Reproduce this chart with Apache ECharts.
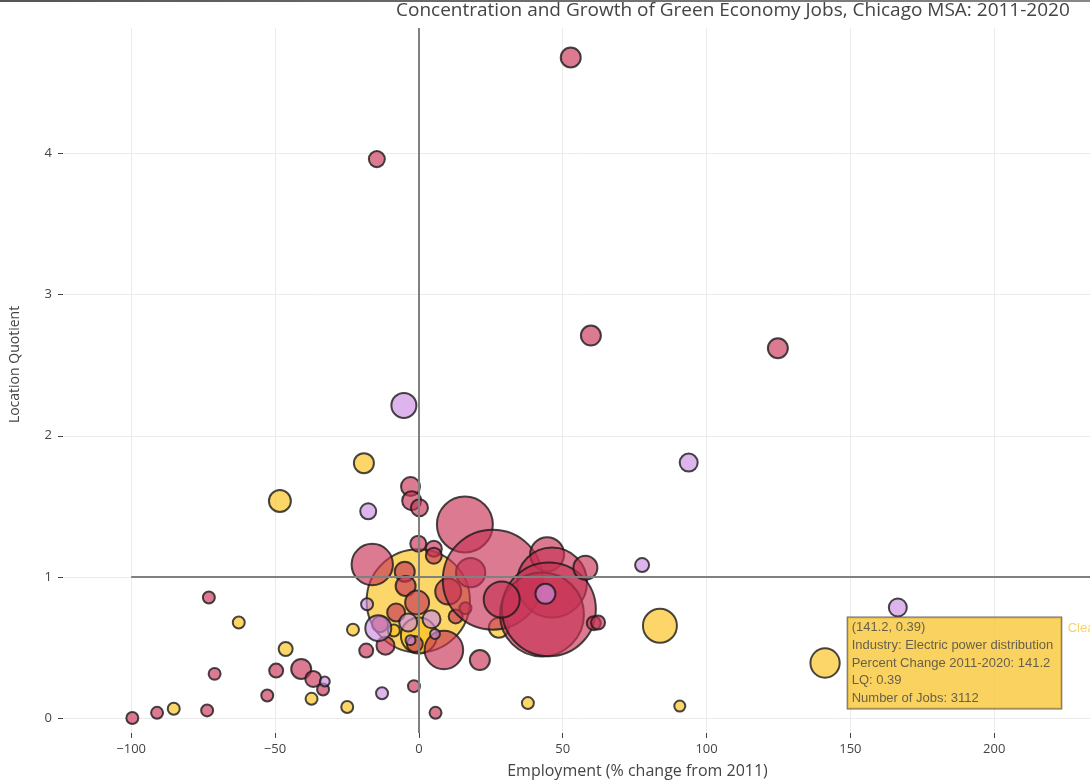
<!DOCTYPE html>
<html>
<head>
<meta charset="utf-8">
<script src="https://cdn.jsdelivr.net/npm/echarts@6/dist/echarts.min.js"></script>
<style>
html,body{margin:0;padding:0;background:#fff;}
#chart{width:1090px;height:784px;}
</style>
</head>
<body>
<div id="chart"></div>
<script>
// ---- data ----
const titleText = 'Concentration and Growth of Green Economy Jobs, Chicago MSA: 2011-2020';
const xTicks = [-100, -50, 0, 50, 100, 150, 200];
const yTicks = [0, 1, 2, 3, 4];

// Clean energy (yellow)
const cleanX    = [-19.1, -48.3, -0.2, 0.0, -22.9, -8.7, 27.8, 83.8, 141.2, 90.7, 37.9, -24.9, -37.3, -46.3, -62.6, -85.2];
const cleanY    = [1.806, 1.538, 0.83, 0.585, 0.626, 0.62, 0.64, 0.654, 0.39, 0.085, 0.106, 0.078, 0.136, 0.489, 0.677, 0.066];
const cleanJobs = [1450, 1750, 38700, 4700, 520, 520, 1450, 4190, 3112, 440, 520, 520, 520, 710, 520, 520];

// Green products & services (pink)
const greenX    = [52.8, -14.6, 59.8, 124.8, -2.9, -2.5, 0.2, 16, -0.2, 5.2, 5.2, -16.2, 18, -4.9, -4.6, 10.2, -0.6, -7.9, 16.2, 12.8,
                   -1.4, -11.6, -18.3, 8.7, 21.2, -1.7, 5.8, 25.7, 44.6, 46.3, 42.8, 45.2, 57.9, 28.8, 60.8, 62.3, -73, -71, -49.6, -40.9,
                   -36.7, -33.3, -52.7, -99.6, -91, -73.6, -13.5];
const greenY    = [4.68, 3.96, 2.71, 2.62, 1.64, 1.54, 1.49, 1.371, 1.235, 1.20, 1.15, 1.088, 1.03, 1.037, 0.936, 0.896, 0.818, 0.748, 0.778, 0.72,
                   0.524, 0.513, 0.478, 0.482, 0.411, 0.226, 0.037, 0.98, 1.16, 0.96, 0.734, 0.77, 1.065, 0.84, 0.672, 0.677, 0.854, 0.313, 0.336, 0.348,
                   0.277, 0.202, 0.16, 0.0, 0.037, 0.054, 0.665];
const greenJobs = [1450, 930, 1450, 1450, 1310, 1310, 1050, 11370, 930, 930, 930, 6210, 3130, 1450, 1450, 2450, 2090, 1175, 520, 710,
                   930, 1175, 710, 5400, 1450, 520, 520, 36250, 4190, 17760, 25580, 32030, 2090, 4700, 710, 710, 520, 520, 710, 1450,
                   930, 520, 520, 520, 520, 520, 930];

// Environmental services (lavender)
const envX    = [-5.2, 93.8, -17.6, 77.6, 166.5, 44, -18, -14.1, -3.7, 4.4, 5.6, -2.9, -12.8, -32.7];
const envY    = [2.215, 1.81, 1.465, 1.084, 0.783, 0.88, 0.806, 0.637, 0.677, 0.70, 0.595, 0.552, 0.176, 0.259];
const envJobs = [2270, 1175, 930, 710, 1175, 1450, 520, 2450, 1175, 1175, 360, 360, 520, 360];

const seriesNames = ['Clean Energy', 'Green Products & Services', 'Environmental Services'];
const hovered = { seriesIndex: 0, index: 8, industry: 'Electric power distribution' };
const refX = 0, refY = 1, refYLineStartX = -100;

// ---- layout ----
const X_MIN = -123.7, X_MAX = 233.3, Y_MIN = -0.106, Y_MAX = 4.889;
const SIZE_K = 0.525;
const FONT = '"Open Sans", "Liberation Sans", Arial, sans-serif';
const ARIAL = '"Liberation Sans", Arial, sans-serif';
const minus = v => String(v).replace('-', '\u2212');

function pts(xs, ys, js) { return xs.map((x, i) => [x, ys[i], js[i]]); }
const allX = [cleanX, greenX, envX], allY = [cleanY, greenY, envY], allJ = [cleanJobs, greenJobs, envJobs];
const fills = ['rgba(250,192,23,0.65)', 'rgba(200,50,85,0.65)', 'rgba(204,140,226,0.65)'];

function bubbleSeries(k) {
  return {
    name: seriesNames[k], type: 'scatter', z: 2,
    data: pts(allX[k], allY[k], allJ[k]),
    symbolSize: v => Math.sqrt(v[2]) * SIZE_K,
    itemStyle: { color: fills[k], borderColor: 'rgba(25,25,25,0.8)', borderWidth: 2, opacity: 1 },
    emphasis: { disabled: true },
    silent: true
  };
}

const hx = allX[hovered.seriesIndex][hovered.index];
const hy = allY[hovered.seriesIndex][hovered.index];
const hj = allJ[hovered.seriesIndex][hovered.index];
const hSize = Math.sqrt(hj) * SIZE_K;
const boxText = [
  '(' + hx + ', ' + hy + ')',
  'Industry: ' + hovered.industry,
  'Percent Change 2011-2020: ' + hx,
  'LQ: ' + hy,
  'Number of Jobs: ' + hj
].join('\n');

const option = {
  animation: false,
  backgroundColor: '#fff',
  title: {
    text: titleText, left: 391, top: -4,
    textStyle: { fontFamily: FONT, fontSize: 19, fontWeight: 'normal', color: '#444' }
  },
  graphic: [{
    type: 'rect', left: 0, top: 0, z: 100, shape: { width: 1090, height: 2 },
    style: { fill: new echarts.graphic.LinearGradient(0, 0, 1, 0, [{ offset: 0, color: '#555' }, { offset: 1, color: '#888' }]) },
    silent: true
  }],
  grid: { left: 63, top: 28, right: 0, height: 708, containLabel: false },
  xAxis: {
    type: 'value', min: X_MIN, max: X_MAX,
    name: 'Employment (% change from 2011)', nameLocation: 'middle', nameGap: 30,
    nameTextStyle: { fontFamily: FONT, fontSize: 16, color: '#444', padding: [0, 0, 0, 122] },
    axisLine: { show: false, onZero: false },
    axisTick: { show: true, length: 5, lineStyle: { color: '#444' }, customValues: xTicks },
    axisLabel: { color: '#444', fontFamily: FONT, fontSize: 13, margin: 10, customValues: xTicks, formatter: minus },
    splitLine: { show: true, lineStyle: { color: '#ebebeb', width: 1 } }
  },
  yAxis: {
    type: 'value', min: Y_MIN, max: Y_MAX,
    name: 'Location Quotient', nameLocation: 'middle', nameGap: 41,
    nameTextStyle: { fontFamily: FONT, fontSize: 14, color: '#444', padding: [0, 0, 0, 32] },
    axisLine: { show: false, onZero: false },
    axisTick: { show: true, length: 5, lineStyle: { color: '#444' }, customValues: yTicks },
    axisLabel: { color: '#444', fontFamily: FONT, fontSize: 13, margin: 11, customValues: yTicks, formatter: minus },
    splitLine: { show: true, lineStyle: { color: '#ebebeb', width: 1 } }
  },
  series: [
    {
      type: 'scatter', z: 1, data: [], silent: true,
      markLine: {
        silent: true, symbol: 'none', animation: false,
        label: { show: false },
        lineStyle: { color: '#808080', width: 2, type: 'solid' },
        emphasis: { disabled: true },
        data: [
          [{ coord: [refX, Y_MIN] }, { coord: [refX, Y_MAX] }],
          [{ coord: [refYLineStartX, refY] }, { coord: [X_MAX, refY] }]
        ]
      }
    },
    bubbleSeries(0),
    bubbleSeries(1),
    bubbleSeries(2),
    {
      type: 'scatter', z: 10, silent: true,
      symbolSize: hSize,
      itemStyle: { color: 'transparent', borderWidth: 0 },
      data: [
        {
          value: [hx, hy, hj],
          label: {
            show: true, position: 'right', distance: 8,
            formatter: boxText,
            fontFamily: ARIAL, fontSize: 13, lineHeight: 17.6, color: '#444',
            backgroundColor: '#f7c738', borderColor: '#444', borderWidth: 1,
            padding: [2, 8, 1, 4], align: 'left'
          }
        },
        {
          value: [hx, hy, hj],
          label: {
            show: true, position: 'right', distance: 228, offset: [0, -35],
            formatter: seriesNames[hovered.seriesIndex],
            fontFamily: ARIAL, fontSize: 13, color: '#f7c738'
          }
        }
      ]
    }
  ]
};

const chart = echarts.init(document.getElementById('chart'), null, { renderer: 'canvas' });
chart.setOption(option);
</script>
</body>
</html>
